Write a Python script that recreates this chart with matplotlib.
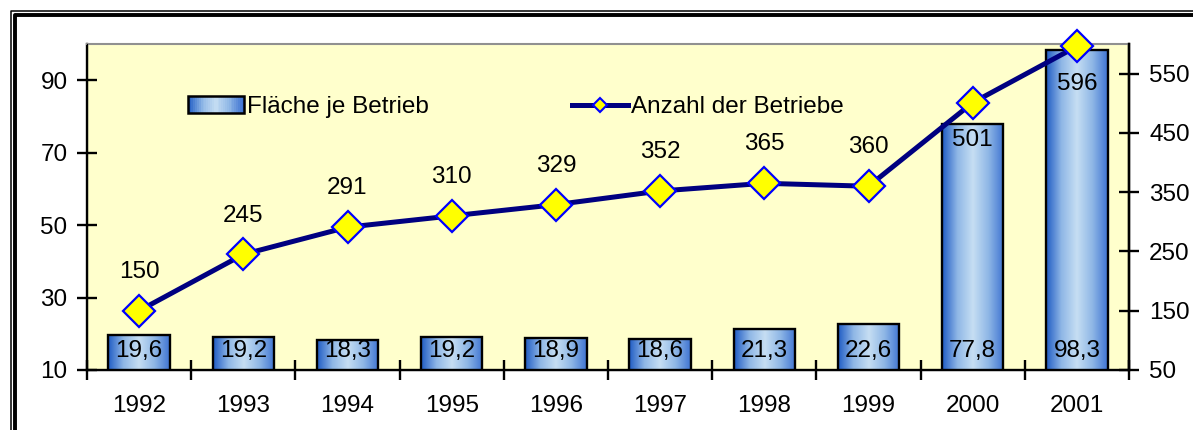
import numpy as np
import matplotlib.pyplot as plt
from matplotlib.colors import LinearSegmentedColormap
from matplotlib.patches import Rectangle
from matplotlib.lines import Line2D
from matplotlib.legend_handler import HandlerBase

years = ['1992', '1993', '1994', '1995', '1996', '1997', '1998', '1999', '2000', '2001']
flaeche = [19.6, 19.2, 18.3, 19.2, 18.9, 18.6, 21.3, 22.6, 77.8, 98.3]
anzahl = [150, 245, 291, 310, 329, 352, 365, 360, 501, 596]

plt.rcParams['font.family'] = ['Liberation Sans', 'DejaVu Sans']
plt.rcParams['font.size'] = 17.5

grad = LinearSegmentedColormap.from_list('bar', ['#1f5bc4', '#8fb7e6', '#c6def3', '#8fb7e6', '#3f74d2'])


class GradientHandler(HandlerBase):
    def create_artists(self, legend, orig_handle, xdescent, ydescent, width, height, fontsize, trans):
        arts = []
        n = 30
        for i in range(n):
            r = Rectangle((-xdescent + width * i / n, -ydescent), width / n + 0.3, height,
                          facecolor=grad(i / (n - 1)), edgecolor='none', transform=trans)
            arts.append(r)
        arts.append(Rectangle((-xdescent, -ydescent), width, height, facecolor='none',
                              edgecolor='black', lw=1.8, transform=trans))
        return arts


fig = plt.figure(figsize=(11.93, 4.30), dpi=100)
ax = fig.add_axes([87 / 1193, 1 - 370 / 430, (1129 - 87) / 1193, (370 - 44) / 430])
ax.set_facecolor('#ffffcc')

x = np.arange(len(years))
bars = ax.bar(x, flaeche, bottom=0, width=0.59, color='none', edgecolor='black', lw=1.7, zorder=3)

# gradient fill inside each bar
img = np.linspace(0, 1, 256).reshape(1, -1)
for b in bars:
    x0, w = b.get_x(), b.get_width()
    ax.imshow(img, cmap=grad, aspect='auto', extent=(x0, x0 + w, 10, b.get_height()),
              zorder=2, interpolation='bilinear')
ax.set_xlim(-0.5, len(years) - 0.5)
ax.set_ylim(10, 100)

for xi, v in zip(x, flaeche):
    ax.text(xi, 15.3, f'{v:.1f}'.replace('.', ','), ha='center', va='center', zorder=4)

ax.set_yticks([10, 30, 50, 70, 90])
ax.set_xticks(np.arange(-0.5, len(years), 1))
ax.set_xticklabels([])
ax.set_xticks(x, minor=True)
ax.set_xticklabels(years, minor=True)
ax.tick_params(axis='x', which='major', direction='inout', length=14, width=1.7)
ax.tick_params(axis='x', which='minor', length=0, pad=18)
ax.tick_params(axis='y', direction='inout', length=14, width=1.7, pad=7)
ax.spines['top'].set_color('#909090')
ax.spines['top'].set_linewidth(1.5)
for s in ['left', 'bottom', 'right']:
    ax.spines[s].set_linewidth(1.7)

ax2 = ax.twinx()
ax2.set_ylim(50, 600)
ax2.set_yticks([50, 150, 250, 350, 450, 550])
ax2.tick_params(axis='y', direction='inout', length=14, width=1.7, pad=7.5)
ax2.spines['right'].set_linewidth(1.7)
ax2.spines['top'].set_visible(False)
ax2.plot(x, anzahl, color='#000080', lw=3.6, marker='D', markersize=16.5, clip_on=False,
         markerfacecolor='#ffff00', markeredgecolor='#0000ff', markeredgewidth=1.6, zorder=5)
for xi, v in zip(x, anzahl):
    off = -27 if v > 450 else 28
    ax2.annotate(str(v), (xi, v), xytext=(0, off), textcoords='offset points',
                 ha='center', va='center', zorder=6)

h_bar = Rectangle((0, 0), 1, 1)
h_line = Line2D([], [], color='#000080', lw=3.6, marker='D', markersize=7,
                markerfacecolor='#ffff00', markeredgecolor='#0000ff', markeredgewidth=1.5)
ax2.legend([h_bar, h_line], ['Fläche je Betrieb', 'Anzahl der Betriebe'], ncol=2,
           handler_map={Rectangle: GradientHandler()}, frameon=False,
           loc='center left', bbox_to_anchor=(91 / 1042, 1 - 63 / 326), handlelength=2.3,
           handleheight=0.65, handletextpad=0.12, columnspacing=5.9, borderaxespad=0)

# double frame around the figure
W, H = 1193, 430
def fx(px):
    return px / W
def fy(py):
    return 1 - py / H
fig.add_artist(Line2D([fx(10.5), fx(10.5), fx(1300)], [fy(500), fy(10.5), fy(10.5)], color='black', lw=1.1))
fig.add_artist(Line2D([fx(15), fx(15), fx(1300)], [fy(500), fy(15), fy(15)], color='black', lw=2.8))

fig.savefig('out.png', dpi=100)
